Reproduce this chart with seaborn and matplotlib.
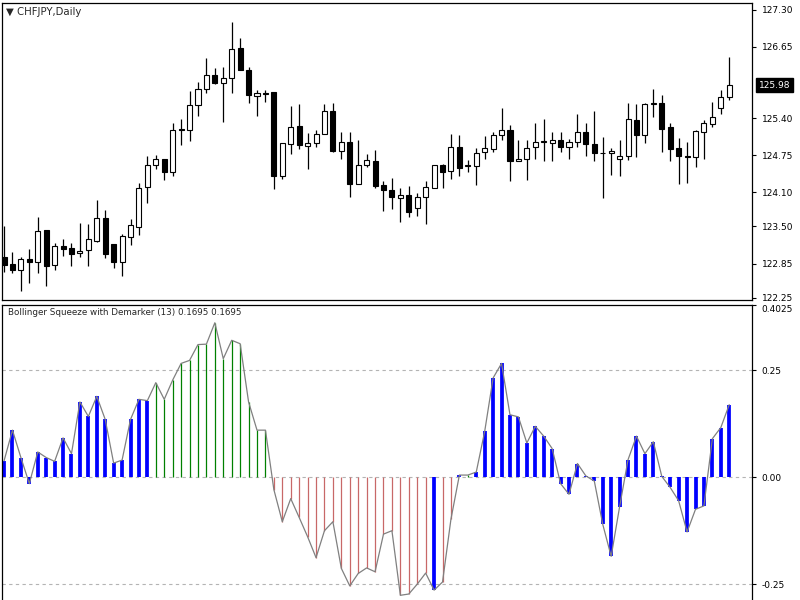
import numpy as np
import pandas as pd
import matplotlib
matplotlib.use("Agg")
import matplotlib.pyplot as plt
import matplotlib.transforms as mtransforms
import seaborn as sns

sns.set_style("white")
plt.rcParams["font.family"] = ["DejaVu Sans"]

# CHFJPY daily candles
opens = [122.97, 122.84, 122.73, 122.93, 122.87, 123.43, 122.83, 123.16, 123.12, 123.03,
         123.08, 123.25, 123.65, 123.19, 122.87, 123.32, 123.49, 124.19, 124.58, 124.68,
         124.45, 125.21, 125.19, 125.63, 125.91, 126.15, 126.02, 126.11, 126.63, 126.25,
         125.79, 125.84, 125.85, 124.38, 124.95, 125.26, 124.91, 124.97, 125.12, 125.52,
         124.83, 124.99, 124.25, 124.58, 124.64, 124.23, 124.14, 124.00, 124.05, 123.82,
         124.01, 124.17, 124.58, 124.48, 124.89, 124.56, 124.56, 124.80, 124.86, 125.10,
         125.19, 124.65, 124.68, 124.89, 124.99, 124.96, 125.01, 124.89, 124.99, 125.16,
         124.95, 124.79, 124.79, 124.69, 124.73, 125.36, 125.11, 125.65, 125.67, 125.25,
         124.87, 124.73, 124.71, 125.15, 125.29, 125.58, 125.77]
highs = [123.51, 123.06, 122.96, 123.10, 123.66, 123.44, 123.21, 123.28, 123.21, 123.56,
         123.55, 123.97, 123.79, 123.19, 123.37, 123.63, 124.26, 124.74, 124.76, 124.68,
         125.32, 125.38, 125.88, 126.04, 126.46, 126.28, 126.29, 127.08, 126.81, 126.29,
         125.90, 125.90, 125.85, 124.96, 125.62, 125.65, 125.14, 125.19, 125.65, 125.67,
         125.15, 125.16, 125.02, 124.77, 124.84, 124.29, 124.35, 124.17, 124.21, 124.08,
         124.29, 124.58, 124.60, 125.12, 125.11, 124.66, 124.87, 125.08, 125.16, 125.58,
         125.28, 125.01, 125.01, 125.32, 125.38, 125.16, 125.16, 125.03, 125.48, 125.32,
         125.52, 125.07, 124.87, 125.01, 125.66, 125.65, 125.67, 125.91, 125.81, 125.32,
         125.05, 124.99, 125.19, 125.36, 125.69, 125.90, 126.48]
lows = [122.70, 122.69, 122.36, 122.51, 122.69, 122.46, 122.73, 122.98, 122.80, 122.96,
        122.81, 123.22, 122.94, 122.77, 122.63, 123.17, 123.35, 123.92, 124.51, 124.32,
        124.39, 124.93, 125.00, 125.43, 125.84, 126.00, 125.34, 125.84, 126.24, 125.66,
        125.44, 125.69, 124.15, 124.33, 124.77, 124.86, 124.51, 124.89, 125.12, 124.81,
        124.69, 124.02, 124.25, 124.54, 124.17, 123.77, 123.80, 123.57, 123.67, 123.69,
        123.55, 124.17, 124.17, 124.33, 124.38, 124.46, 124.23, 124.68, 124.80, 125.02,
        124.30, 124.65, 124.32, 124.68, 124.64, 124.64, 124.80, 124.68, 124.89, 124.74,
        124.64, 124.00, 124.41, 124.39, 124.67, 124.72, 124.97, 125.42, 124.81, 124.64,
        124.25, 124.26, 124.54, 124.68, 125.24, 125.48, 125.71]
closes = [122.83, 122.73, 122.93, 122.88, 123.42, 122.81, 123.16, 123.10, 123.02, 123.07,
          123.28, 123.65, 123.02, 122.87, 123.33, 123.52, 124.17, 124.58, 124.69, 124.45,
          125.19, 125.20, 125.63, 125.91, 126.15, 126.01, 126.10, 126.61, 126.24, 125.80,
          125.84, 125.83, 124.39, 124.96, 125.24, 124.93, 124.97, 125.12, 125.52, 124.83,
          124.99, 124.25, 124.58, 124.66, 124.21, 124.14, 124.02, 124.05, 123.76, 124.01,
          124.19, 124.58, 124.46, 124.89, 124.52, 124.57, 124.79, 124.87, 125.11, 125.19,
          124.65, 124.69, 124.87, 124.99, 124.99, 125.01, 124.89, 124.99, 125.16, 124.95,
          124.79, 124.78, 124.83, 124.74, 125.38, 125.11, 125.65, 125.66, 125.21, 124.86,
          124.74, 124.72, 125.18, 125.31, 125.42, 125.77, 125.98]

# Bollinger Squeeze with Demarker (13)
squeeze = [0.038, 0.110, 0.046, -0.015, 0.059, 0.046, 0.037, 0.092, 0.055, 0.176,
           0.142, 0.189, 0.135, 0.033, 0.040, 0.135, 0.182, 0.179, 0.221, 0.182,
           0.227, 0.266, 0.273, 0.310, 0.311, 0.361, 0.277, 0.320, 0.312, 0.176,
           0.110, 0.110, -0.029, -0.104, -0.050, -0.094, -0.139, -0.188, -0.125, -0.104,
           -0.213, -0.254, -0.225, -0.212, -0.221, -0.133, -0.125, -0.276, -0.273, -0.250,
           -0.224, -0.264, -0.245, -0.098, 0.005, 0.005, 0.012, 0.107, 0.232, 0.266,
           0.146, 0.141, 0.080, 0.119, 0.096, 0.067, -0.015, -0.040, 0.032, 0.003,
           -0.009, -0.110, -0.185, -0.069, 0.041, 0.096, 0.055, 0.083, 0.002, -0.024,
           -0.055, -0.128, -0.075, -0.067, 0.090, 0.116, 0.1695]
# b = squeeze (blue), g = up, r = down
state = list("b" * 18 + "g" * 14 + "r" * 19 + "b" + "rr" + "b" + "g" + "b" * 31)

price_ticks = [127.30, 126.65, 125.40, 124.75, 124.10, 123.50, 122.85, 122.25]
ind_ticks = [0.4025, 0.25, 0.0, -0.25]
ind_labels = ["0.4025", "0.25", "0.00", "-0.25"]
levels = [0.25, 0.0, -0.25]

df = pd.DataFrame({"open": opens, "high": highs, "low": lows, "close": closes,
                   "squeeze": squeeze, "state": state})
df["bar"] = np.arange(len(df))

fig = plt.figure(figsize=(8, 6), dpi=100)
ax1 = fig.add_axes([2 / 800, 0.5, 750 / 800, 297 / 600])
ax2 = fig.add_axes([2 / 800, -3 / 600, 750 / 800, 298 / 600])

# candles
up = df["close"] >= df["open"]
ax1.vlines(df["bar"], df["low"], df["high"], color="black", lw=0.9, zorder=2)
body = (df["close"] - df["open"]).abs().clip(lower=0.012)
ax1.bar(df["bar"], body, bottom=np.minimum(df["open"], df["close"]), width=0.6,
        color=np.where(up, "white", "black"), edgecolor="black", linewidth=0.8, zorder=3)

# indicator
colors = {"b": "#0000ff", "g": "#008000", "r": "#c86868"}
widths = {"b": 2.7, "g": 0.9, "r": 0.9}
for s in ["g", "r", "b"]:
    d = df[df["state"] == s]
    ax2.vlines(d["bar"], 0, d["squeeze"], color=colors[s], lw=widths[s], zorder=2)
sns.lineplot(data=df, x="bar", y="squeeze", color="#808080", lw=0.9, ax=ax2, zorder=3)
for lv in levels:
    ax2.axhline(lv, color="#b4b4b4", lw=0.8, ls=(0, (3, 3)), zorder=1)

for ax in (ax1, ax2):
    ax.set_xlim(-0.24, 88.7)
    ax.set_xticks([])
    ax.set_xlabel("")
    ax.set_ylabel("")
    ax.yaxis.tick_right()
    ax.tick_params(axis="y", right=True, left=False, direction="out", length=3,
                   width=0.8, pad=4, labelsize=6.5, colors="black")
    for sp in ax.spines.values():
        sp.set_color("black")
        sp.set_linewidth(0.9)

ax1.set_ylim(122.21, 127.42)
ax1.set_yticks(price_ticks)
ax1.set_yticklabels([f"{v:.2f}" for v in price_ticks])

ax2.set_ylim(-0.294, 0.4025)
ax2.set_yticks(ind_ticks)
ax2.set_yticklabels(ind_labels)
ax2.get_yticklabels()[0].set_va("top")

# last price box
trans = mtransforms.blended_transform_factory(ax1.transAxes, ax1.transData)
ax1.text(1.0 + 7 / 750, closes[-1], f"{closes[-1]:.2f}", transform=trans, color="white",
         fontsize=6.5, va="center", ha="left", clip_on=False,
         bbox=dict(boxstyle="square,pad=0.3", fc="black", ec="black"))

fig.text(6 / 800, 1 - 12 / 600, "\u25bc CHFJPY,Daily", fontsize=7.3, va="center", ha="left")
fig.text(8 / 800, 1 - 313 / 600, "Bollinger Squeeze with Demarker (13) 0.1695 0.1695",
         fontsize=6.3, va="center", ha="left")

fig.savefig("out.png", dpi=100, facecolor="white")
